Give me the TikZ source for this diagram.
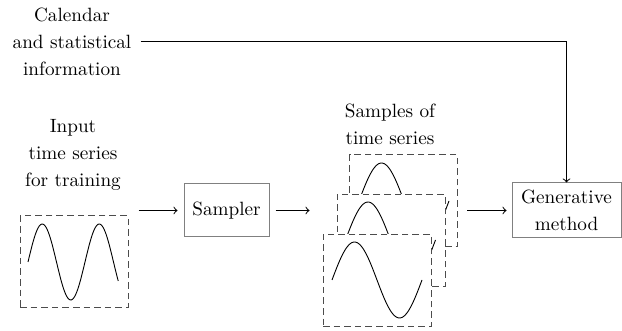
\documentclass[tikz,border=0pt]{standalone}
\usetikzlibrary{calc}
\begin{document}
\begin{tikzpicture}[x=0.5pt,y=-0.5pt,
  font=\fontsize{9.6}{13.5}\selectfont,
  solidbox/.style={draw=black!50, line width=0.5pt, align=center, inner sep=0pt},
  dbox/.style={draw=black!70, line width=0.5pt, dash pattern=on 3.3pt off 2pt, fill=white,
    minimum width=54pt, minimum height=46pt, inner sep=0pt},
  lbl/.style={align=center, inner sep=0pt},
  conn/.style={->, line width=0.5pt},
  wave/.style={line width=0.45pt}]
\useasboundingbox (0,0) rectangle (622,331);

% labels
\node[lbl] (cal) at (72,42) {Calendar\\and statistical\\information};
\node[lbl] (inlbl) at (73,155) {Input\\time series\\for training};
\node[lbl] (samplbl) at (390,124.5) {Samples of\\time series};

% input box
\node[dbox] (inbox) at (74,262) {};
\draw[wave] plot[domain=0:570, samples=90] ({28+\x/360*57}, {262-38*sin(\x)});

% sampler
\node[solidbox, minimum width=42.5pt, minimum height=26.5pt] (sampler) at (226.5,210.5) {Sampler};

% stacked samples
\node[dbox] (back) at (403.5,201) {};
\draw[wave] plot[domain=0:360, samples=60] ({359+\x/4}, {201-38*sin(\x)});
\node[dbox] (middle) at (391,240.5) {};
\draw[wave] plot[domain=0:360, samples=60] ({345.5+\x/4}, {240-38*sin(\x)});
\node[dbox] (front) at (377,280.5) {};
\draw[wave] plot[domain=0:360, samples=60] ({332+\x/4}, {280-38*sin(\x)});

% generative method
\node[solidbox, minimum width=54.5pt, minimum height=27.5pt] (gen) at (566.5,210.5) {Generative\\method};

% connectors
\draw[conn, shorten <=5pt, shorten >=3pt] (inbox.east |- sampler.west) -- (sampler.west);
\draw[conn, shorten <=3pt, shorten >=6.5pt] (sampler.east) -- (front.west |- sampler.east);
\draw[conn, shorten <=4.5pt, shorten >=2.5pt] (back.east |- gen.west) -- (gen.west);
\draw[conn, shorten <=4.5pt] (cal.east) -| (gen.north);
\end{tikzpicture}
\end{document}
